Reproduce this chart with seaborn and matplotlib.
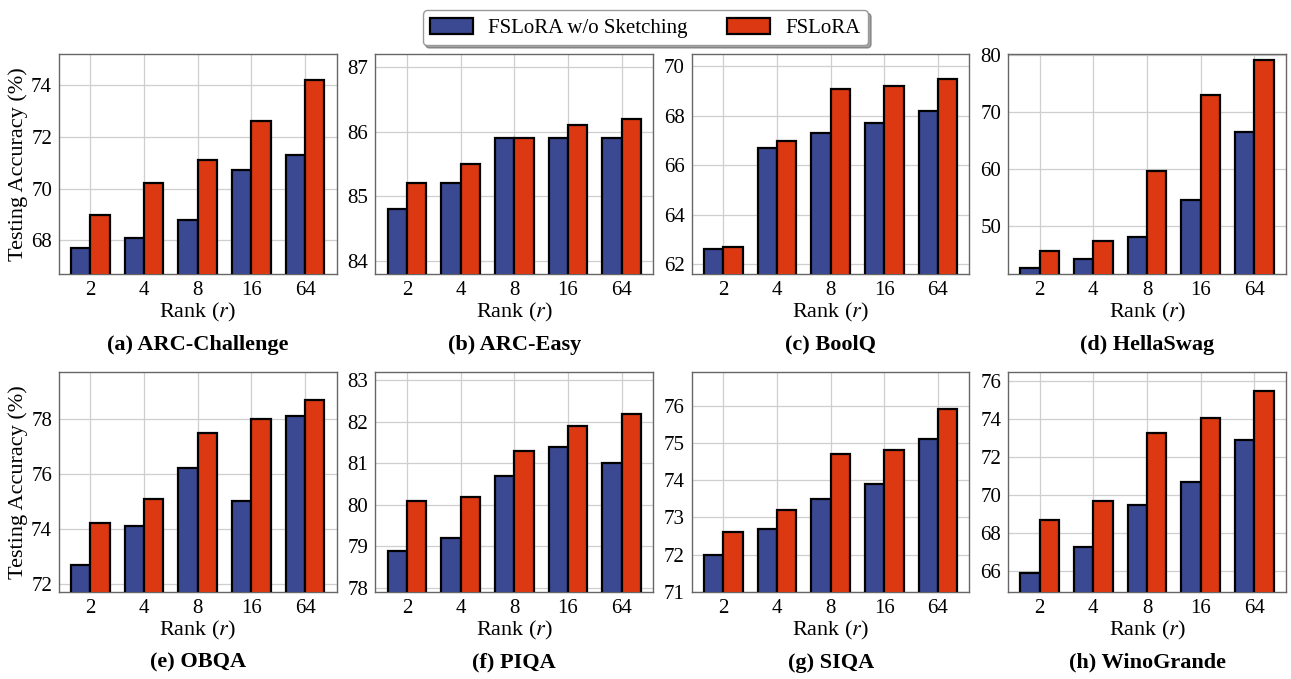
import matplotlib
matplotlib.use("Agg")
import matplotlib.pyplot as plt
from matplotlib.ticker import MultipleLocator
import seaborn as sns
import pandas as pd

ranks = ["2", "4", "8", "16", "64"]
methods = ["FSLoRA w/o Sketching", "FSLoRA"]
titles = ["(a) ARC-Challenge", "(b) ARC-Easy", "(c) BoolQ", "(d) HellaSwag",
          "(e) OBQA", "(f) PIQA", "(g) SIQA", "(h) WinoGrande"]

arc_c_wo = [67.7, 68.1, 68.8, 70.7, 71.3]
arc_c_fs = [69.0, 70.2, 71.1, 72.6, 74.2]
arc_e_wo = [84.8, 85.2, 85.9, 85.9, 85.9]
arc_e_fs = [85.2, 85.5, 85.9, 86.1, 86.2]
boolq_wo = [62.6, 66.7, 67.3, 67.7, 68.2]
boolq_fs = [62.7, 67.0, 69.1, 69.2, 69.5]
hella_wo = [42.5, 44.2, 48.1, 54.5, 66.4]
hella_fs = [45.6, 47.4, 59.7, 72.9, 79.2]
obqa_wo = [72.7, 74.1, 76.2, 75.0, 78.1]
obqa_fs = [74.2, 75.1, 77.5, 78.0, 78.7]
piqa_wo = [78.9, 79.2, 80.7, 81.4, 81.0]
piqa_fs = [80.1, 80.2, 81.3, 81.9, 82.2]
siqa_wo = [72.0, 72.7, 73.5, 73.9, 75.1]
siqa_fs = [72.6, 73.2, 74.7, 74.8, 75.9]
wino_wo = [65.9, 67.3, 69.5, 70.7, 72.9]
wino_fs = [68.7, 69.7, 73.3, 74.1, 75.5]

series = [(arc_c_wo, arc_c_fs), (arc_e_wo, arc_e_fs), (boolq_wo, boolq_fs),
          (hella_wo, hella_fs), (obqa_wo, obqa_fs), (piqa_wo, piqa_fs),
          (siqa_wo, siqa_fs), (wino_wo, wino_fs)]
ytick_steps = [2, 1, 2, 10, 2, 1, 1, 2]

colors = ["#3B4992", "#DC3912"]

sns.set_theme(style="whitegrid")
plt.rcParams["font.family"] = ["Liberation Serif", "DejaVu Serif"]
plt.rcParams["mathtext.fontset"] = "stix"
plt.rcParams["text.color"] = "black"
plt.rcParams["axes.labelcolor"] = "black"

fig, axes = plt.subplots(2, 4, figsize=(12.91, 6.79), dpi=100)
fig.subplots_adjust(left=0.0457, right=0.996, top=0.9205, bottom=0.128,
                    wspace=0.14, hspace=0.445)

for i, ax in enumerate(axes.flat):
    wo, fs = series[i]
    df = pd.DataFrame({
        "rank": ranks * 2,
        "acc": wo + fs,
        "method": [methods[0]] * 5 + [methods[1]] * 5,
    })
    sns.barplot(data=df, x="rank", y="acc", hue="method", order=ranks,
                hue_order=methods, palette=colors, saturation=1,
                edgecolor="black", linewidth=1.6, width=0.72, ax=ax, zorder=3)
    allv = wo + fs
    ax.set_ylim(min(allv) - 1, max(allv) + 1)
    ax.yaxis.set_major_locator(MultipleLocator(ytick_steps[i]))
    ax.set_xlim(-0.585, 4.585)
    ax.grid(True, color="#cfcfcf", linewidth=0.9, zorder=0)
    ax.set_axisbelow(True)
    for s in ax.spines.values():
        s.set_color("#666666")
        s.set_linewidth(1.0)
    ax.tick_params(axis="both", labelsize=15, length=3, color="#666666",
                   pad=2, labelcolor="black")
    ax.set_xlabel("Rank ($r$)", fontsize=16, labelpad=1, color="black")
    if i % 4 == 0:
        ax.set_ylabel("Testing Accuracy (%)", fontsize=16, labelpad=2,
                      color="black")
    else:
        ax.set_ylabel("")
    ax.text(0.5, -0.322, titles[i], transform=ax.transAxes, ha="center",
            va="center", fontsize=16, fontweight="bold", color="black")
    if ax.get_legend() is not None:
        ax.get_legend().remove()

handles, labels = axes.flat[0].get_legend_handles_labels()
leg = fig.legend(handles[:2], labels[:2], loc="upper center", ncol=2,
                 bbox_to_anchor=(0.5, 1.0), fontsize=15, frameon=True,
                 shadow=True, fancybox=True, handlelength=2.05,
                 handleheight=0.8, handletextpad=0.75, columnspacing=1.9,
                 edgecolor="#999999", borderpad=0.35)
for t in leg.get_texts():
    t.set_color("black")

fig.savefig("out.png", dpi=100)
